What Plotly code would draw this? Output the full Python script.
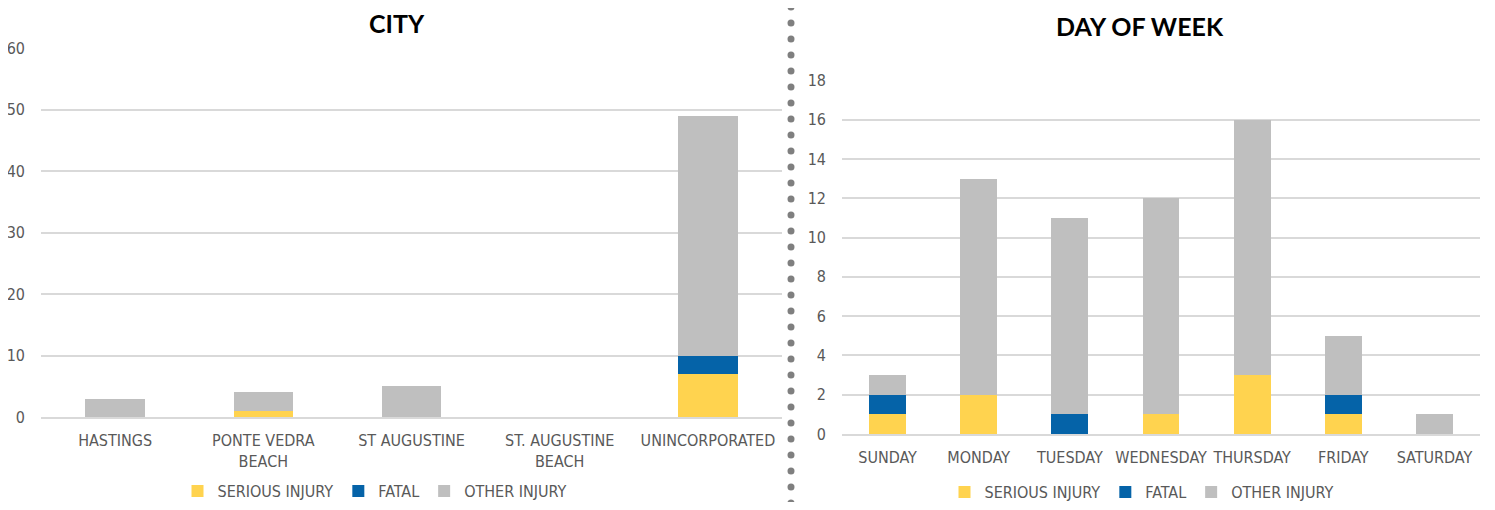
import plotly.graph_objects as go

cities = ["HASTINGS", "PONTE VEDRA<br>BEACH", "ST AUGUSTINE", "ST. AUGUSTINE<br>BEACH", "UNINCORPORATED"]
city_serious = [0, 1, 0, 0, 7]
city_fatal = [0, 0, 0, 0, 3]
city_other = [3, 3, 5, 0, 39]

days = ["SUNDAY", "MONDAY", "TUESDAY", "WEDNESDAY", "THURSDAY", "FRIDAY", "SATURDAY"]
day_serious = [1, 2, 0, 1, 3, 1, 0]
day_fatal = [1, 0, 1, 0, 0, 1, 0]
day_other = [1, 11, 10, 11, 13, 3, 1]

series_names = ["SERIOUS INJURY", "FATAL", "OTHER INJURY"]
colors = ["#FFD34F", "#0563A8", "#BFBFBF"]

FONT = "'Liberation Sans Narrow', 'DejaVu Sans Condensed', Arial, sans-serif"
TFONT = "Lato, Arial, sans-serif"
TXT = "#595959"

fig = go.Figure()
for name, vals, c in zip(series_names, [city_serious, city_fatal, city_other], colors):
    fig.add_trace(go.Bar(x=cities, y=vals, name=name, marker=dict(color=c, line=dict(width=0)),
                         xaxis="x", yaxis="y", width=0.4, legend="legend"))
for name, vals, c in zip(series_names, [day_serious, day_fatal, day_other], colors):
    fig.add_trace(go.Bar(x=days, y=vals, name=name, marker=dict(color=c, line=dict(width=0)),
                         xaxis="x2", yaxis="y2", width=0.405, legend="legend2"))

# page body has an 8px margin; map reference page pixels to figure pixels
OFF = 8
W, H = 1495 - 2 * OFF, 510 - 2 * OFF
def px(x): return (x - OFF) / W
def py(y): return 1 - (y - OFF) / H

axis_common = dict(tickfont=dict(family=FONT, size=16, color=TXT), fixedrange=True, automargin=False)
fig.update_layout(
    width=W, height=H, margin=dict(l=0, r=0, t=0, b=0, autoexpand=False),
    paper_bgcolor="white", plot_bgcolor="white",
    barmode="stack",
    font=dict(family=FONT, color=TXT),
    xaxis=dict(domain=[px(41), px(782)], anchor="y", showgrid=False, showline=True,
               linecolor="#D9D9D9", linewidth=2, ticks="", ticklabelstandoff=8, **axis_common),
    yaxis=dict(domain=[py(417), py(48)], anchor="x", range=[0, 60], dtick=10,
               showgrid=True, gridcolor="#D9D9D9", gridwidth=1.5, zeroline=False,
               ticklabelstandoff=15, **axis_common),
    xaxis2=dict(domain=[px(842), px(1480)], anchor="y2", showgrid=False, showline=True,
                linecolor="#D9D9D9", linewidth=2, ticks="", ticklabelstandoff=8, **axis_common),
    yaxis2=dict(domain=[py(434), py(80.5)], anchor="x2", range=[0, 18], dtick=2,
                showgrid=True, gridcolor="#D9D9D9", gridwidth=1.5, zeroline=False,
                ticklabelstandoff=15, **axis_common),
    legend=dict(orientation="h", x=px(375), xanchor="center", y=py(491), yanchor="middle",
                font=dict(family=FONT, size=16, color=TXT), traceorder="normal",
                itemwidth=30, bgcolor="rgba(0,0,0,0)"),
    legend2=dict(orientation="h", x=px(1142), xanchor="center", y=py(492), yanchor="middle",
                 font=dict(family=FONT, size=16, color=TXT), traceorder="normal",
                 itemwidth=30, bgcolor="rgba(0,0,0,0)"),
    annotations=[
        dict(text="<b>CITY</b>", x=px(397), y=py(23), xref="paper", yref="paper",
             xanchor="center", yanchor="middle",
             showarrow=False, font=dict(family=TFONT, size=25, color="#000000")),
        dict(text="<b>DAY OF WEEK</b>", x=px(1140), y=py(26), xref="paper", yref="paper",
             xanchor="center", yanchor="middle",
             showarrow=False, font=dict(family=TFONT, size=25, color="#000000")),
    ],
    showlegend=True,
)

shapes = []
y = 7
while y <= 506:
    shapes.append(dict(type="circle", xref="paper", yref="paper", xsizemode="pixel", ysizemode="pixel",
                       xanchor=px(791), yanchor=py(y), x0=-3.5, x1=3.5, y0=-3.5, y1=3.5,
                       fillcolor="#7F7F7F", line=dict(width=0)))
    y += 16
fig.update_layout(shapes=shapes)

fig.write_html("out.html")
